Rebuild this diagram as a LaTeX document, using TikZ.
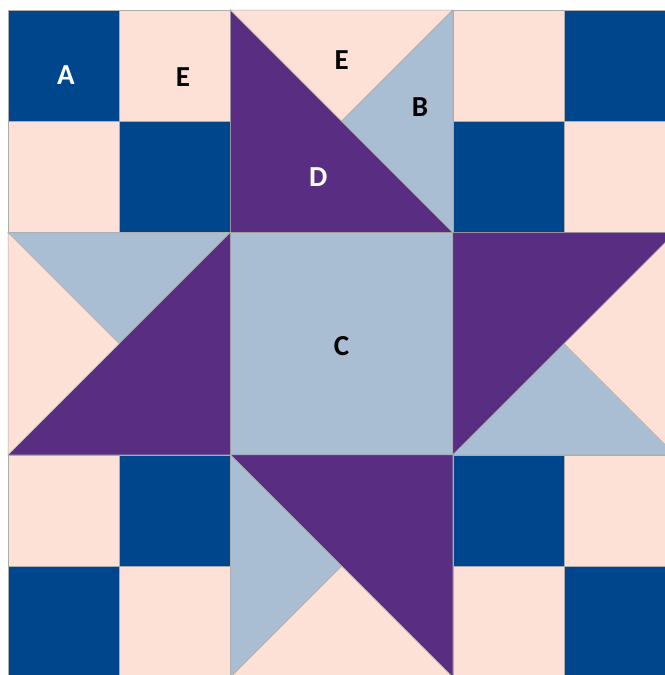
\documentclass[tikz,border=0pt]{standalone}
\usepackage{fontspec}
\setmainfont{Carlito}
\usepackage{xcolor}
\usepackage{tikz}
\usetikzlibrary{positioning}
\definecolor{quiltnavy}{RGB}{0,70,140}
\definecolor{quiltpink}{RGB}{253,225,215}
\definecolor{quiltpurple}{RGB}{89,45,129}
\definecolor{quiltblue}{RGB}{169,189,211}

\begin{document}
\begin{tikzpicture}[
    x=111.2pt, y=-111.2pt,
    patch/.style={draw=gray!65, line width=0.5pt},
    navy/.style={patch, fill=quiltnavy},
    pink/.style={patch, fill=quiltpink},
    purple/.style={patch, fill=quiltpurple},
    blue/.style={patch, fill=quiltblue},
    letter/.style={inner sep=0pt, font=\fontsize{29}{30}\selectfont\bfseries}
]
\useasboundingbox[fill=white] (-0.072,-0.09) rectangle (5.908,5.98);
\clip (-0.072,-0.09) rectangle (5.908,5.98);
% four-patch corners
\foreach \cx/\cy in {0/0,1/1,5/0,4/1,1/4,0/5,4/4,5/5}
  \filldraw[navy] (\cx,\cy) rectangle ++(1,1);
\foreach \cx/\cy in {1/0,0/1,4/0,5/1,0/4,1/5,5/4,4/5}
  \filldraw[pink] (\cx,\cy) rectangle ++(1,1);
% centre square
\filldraw[blue] (2,2) rectangle (4,4);
% top star point
\filldraw[purple] (2,0) -- (2,2) -- (4,2) -- cycle;
\filldraw[pink] (2,0) -- (4,0) -- (3,1) -- cycle;
\filldraw[blue] (4,0) -- (3,1) -- (4,2) -- cycle;
% left star point
\filldraw[blue] (0,2) -- (2,2) -- (1,3) -- cycle;
\filldraw[purple] (2,2) -- (2,4) -- (0,4) -- cycle;
\filldraw[pink] (0,2) -- (1,3) -- (0,4) -- cycle;
% right star point
\filldraw[purple] (4,2) -- (6,2) -- (4,4) -- cycle;
\filldraw[blue] (4,4) -- (6,4) -- (5,3) -- cycle;
\filldraw[pink] (6,2) -- (6,4) -- (5,3) -- cycle;
% bottom star point
\filldraw[purple] (2,4) -- (4,4) -- (4,6) -- cycle;
\filldraw[blue] (2,4) -- (3,5) -- (2,6) -- cycle;
\filldraw[pink] (2,6) -- (3,5) -- (4,6) -- cycle;
% piece letters
\node[letter, white] (pieceA) at (0.52,0.585) {A};
\node[letter] (pieceE) at (1.574,0.60) {E};
\node[letter] (pieceEtop) at (3.0,0.45) {E};
\node[letter] (pieceB) at (3.705,0.87) {B};
\node[letter, white] (pieceD) at (2.79,1.50) {D};
\node[letter] (pieceC) at (3.0,3.02) {C};
\end{tikzpicture}
\end{document}
